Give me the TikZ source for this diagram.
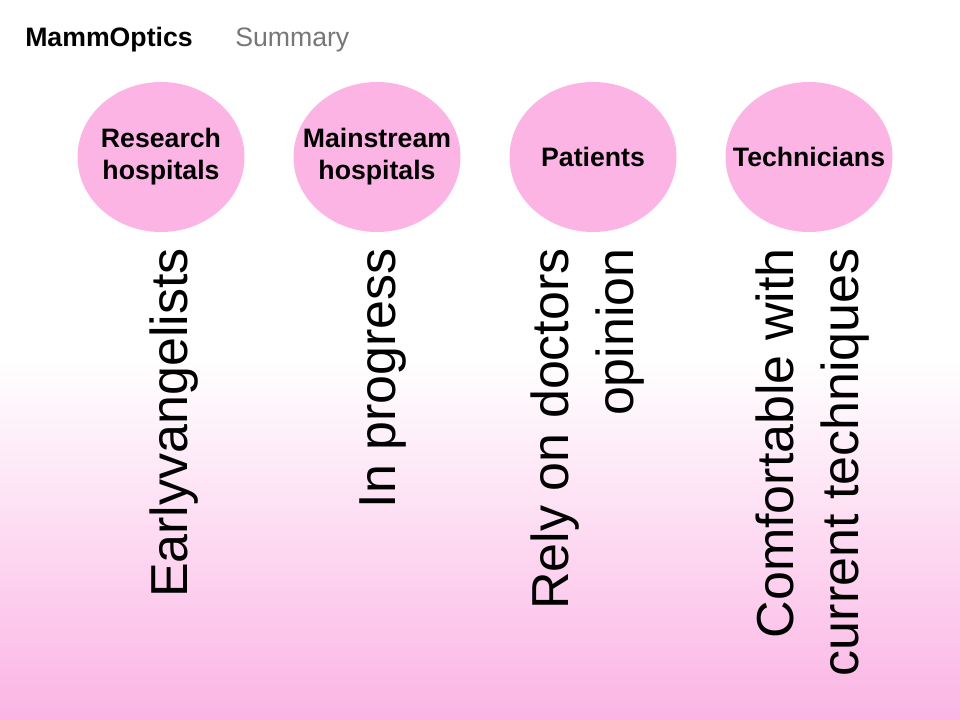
\documentclass[tikz,border=0pt]{standalone}
\usepackage{fontspec}
\setmainfont{Liberation Sans}
\usetikzlibrary{positioning,shapes}
\definecolor{mopink}{HTML}{FBB4E4}
\definecolor{mogray}{HTML}{777777}

\begin{document}
\begin{tikzpicture}[x=0.75pt,y=-0.75pt,node distance=162pt,on grid,
	group/.style={ellipse,fill=mopink,minimum width=125.25pt,minimum height=112.5pt,
		inner xsep=-20pt,inner ysep=0pt,align=center,font=\fontsize{20}{24}\selectfont\bfseries},
	verdict/.style={rotate=90,anchor=base east,align=right,inner sep=0pt,
		font=\fontsize{39}{48.75}\selectfont}]
	\useasboundingbox (0,0) rectangle (960,720);
	\fill[white] (0,0) rectangle (960,720);
	\shade[top color=white,bottom color=mopink] (0,360) rectangle (960,720);

	\node[anchor=base west,inner sep=0pt,font=\fontsize{20}{24}\selectfont\bfseries] (mamm) at (25,47) {MammOptics};
	\node[on grid=false,base right=31.5pt of mamm,inner sep=0pt,text=mogray,font=\fontsize{20}{24}\selectfont] (summary) {Summary};

	\node[group] (research) at (161,157) {Research\\hospitals};
	\node[group, right = of research] (mainstream) {Mainstream\\hospitals};
	\node[group, right = of mainstream] (patients) {Patients};
	\node[group, right = of patients] (technicians) {Technicians};

	% base of a two-line node is its last line
	\node[verdict] (early) at (187,248) {Earlyvangelists};
	\node[verdict] (progress) at (395,248) {In progress};
	\node[verdict] (doctors) at (633,248) {Rely on doctors\\opinion};
	\node[verdict] (current) at (858,248) {Comfortable with\\current techniques};
\end{tikzpicture}
\end{document}
